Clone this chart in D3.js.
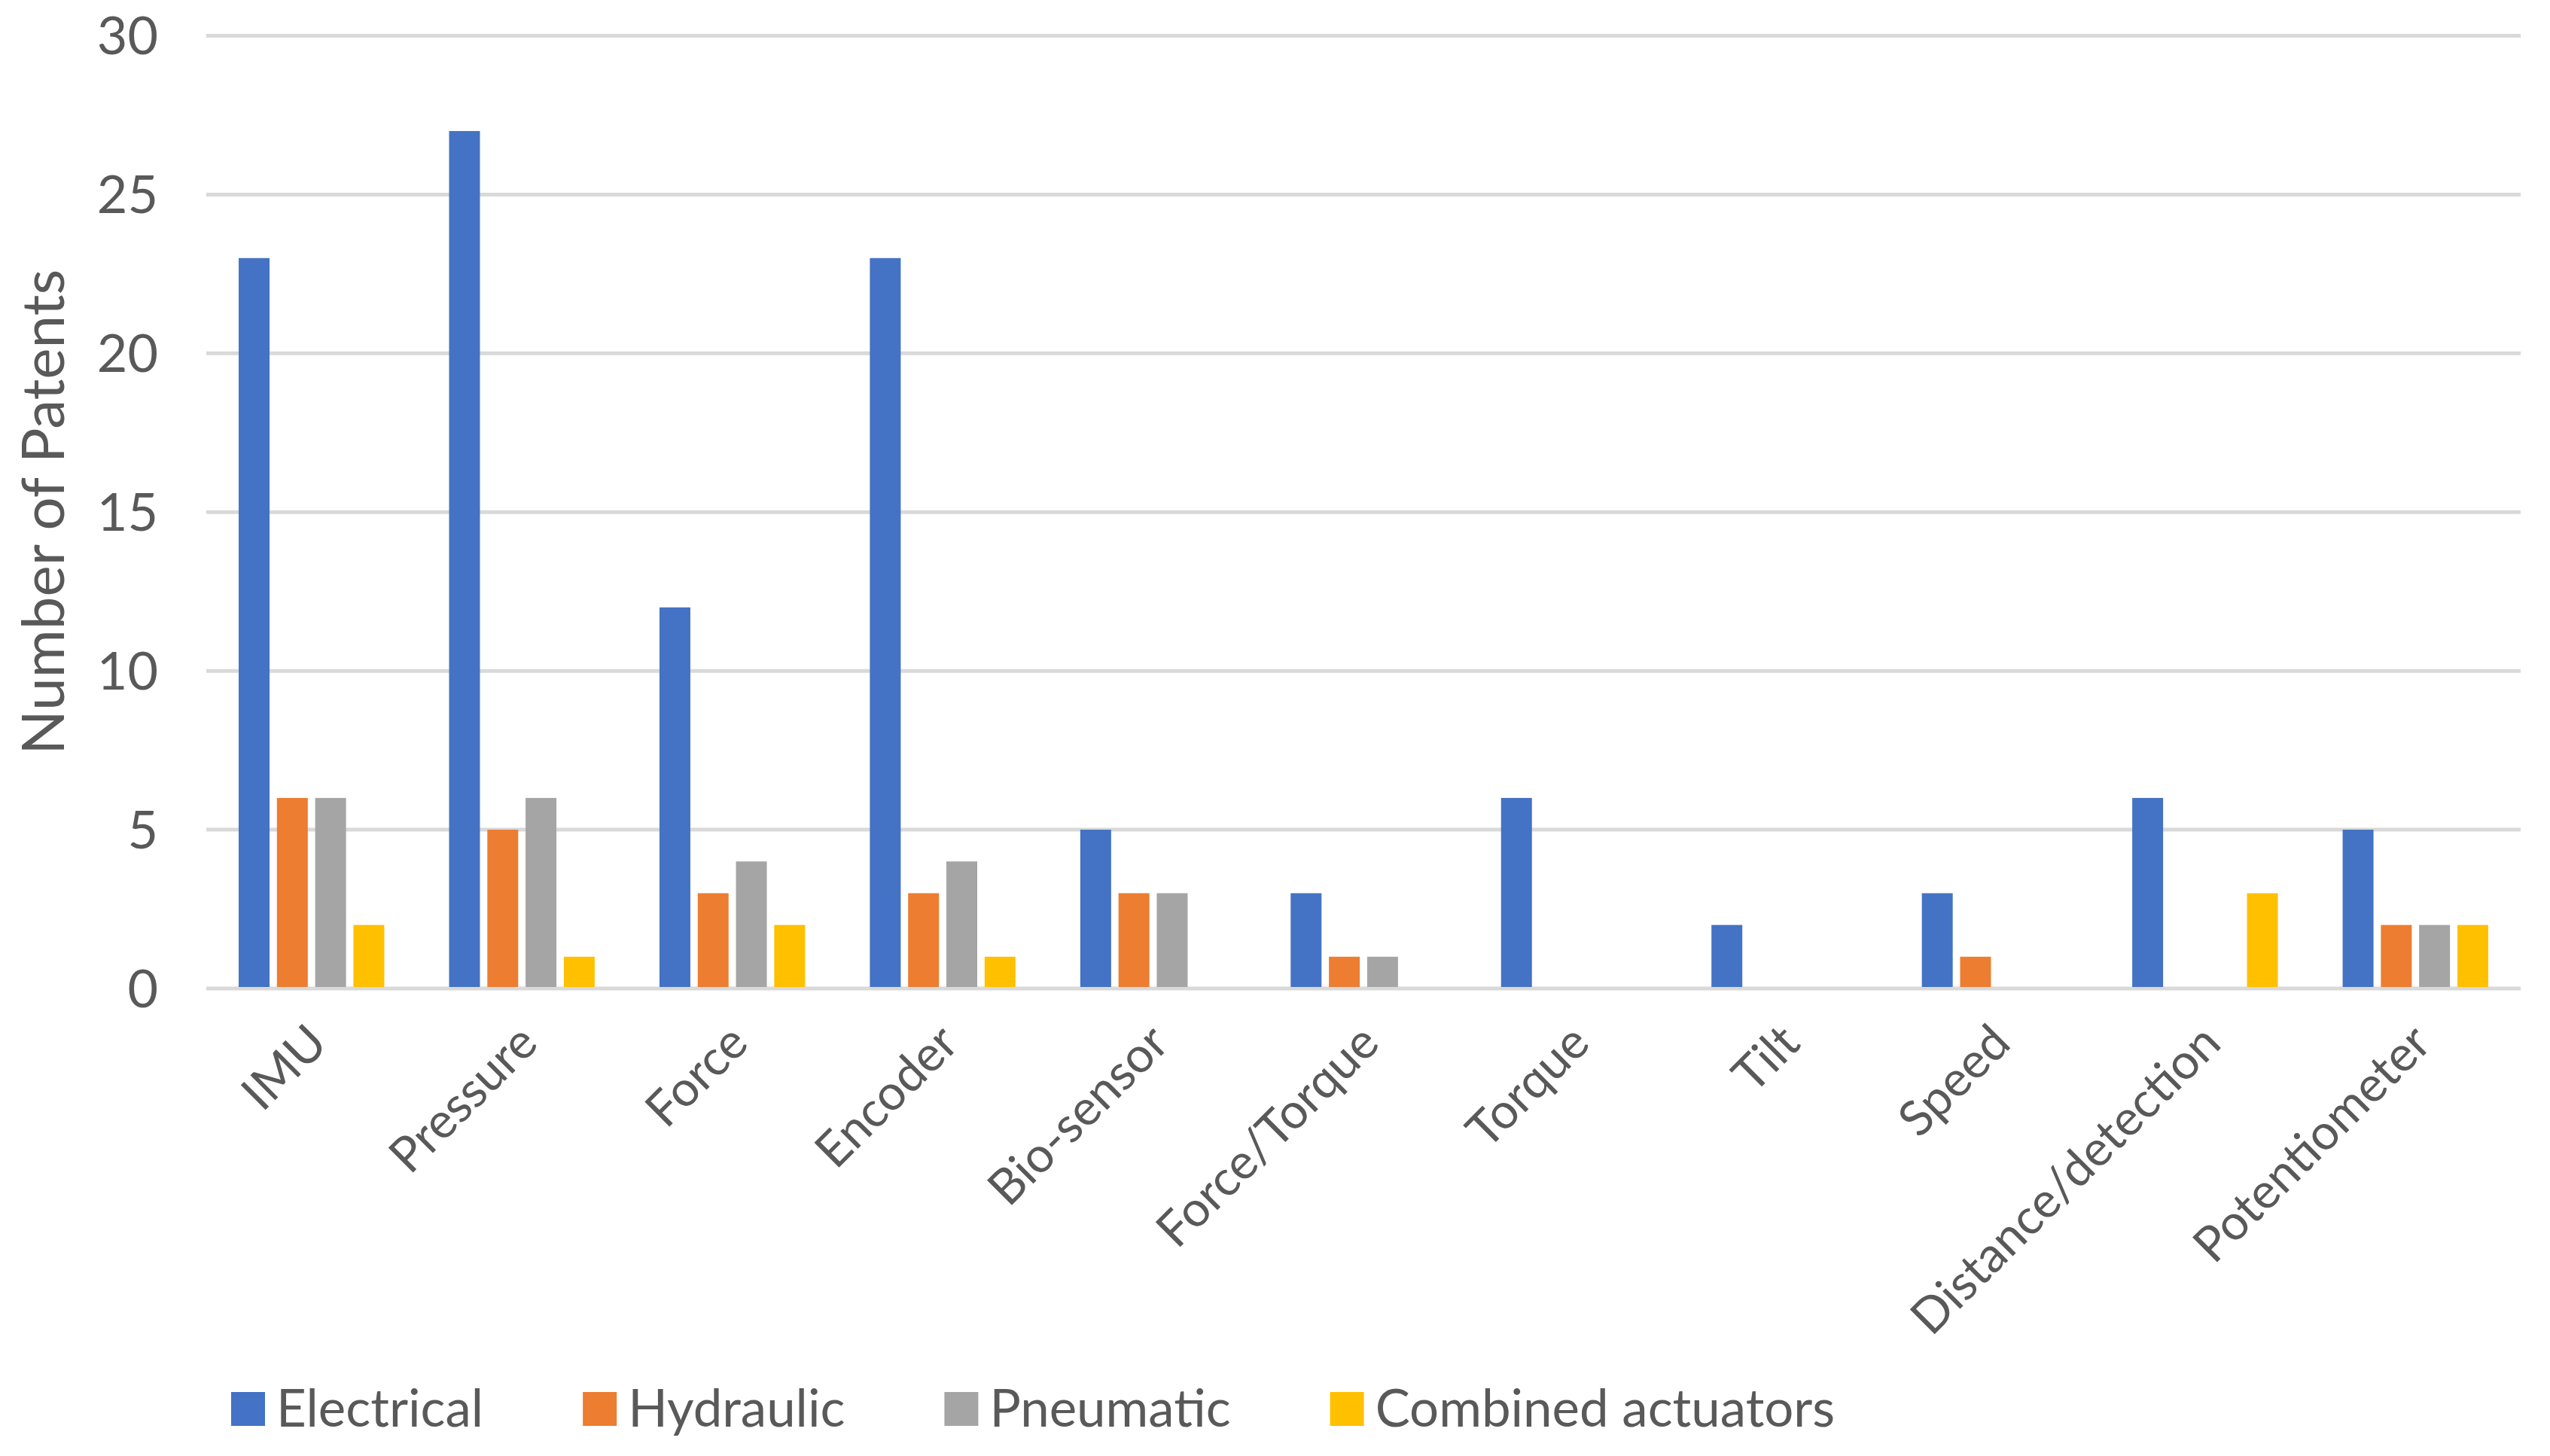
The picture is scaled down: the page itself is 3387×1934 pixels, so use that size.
<!DOCTYPE html>
<html>
<head>
<meta charset="utf-8">
<script src="https://cdn.jsdelivr.net/npm/d3@7"></script>
<style>
  html, body { margin: 0; padding: 0; background: #fff; }
  text { font-family: Lato, "Open Sans", sans-serif; fill: #595959; }
</style>
</head>
<body>
<svg id="chart" width="3387" height="1934"></svg>
<script>
// data
const categories = ['IMU', 'Pressure', 'Force', 'Encoder', 'Bio-sensor', 'Force/Torque',
    'Torque', 'Tilt', 'Speed', 'Distance/detection', 'Potentiometer'];
const seriesNames = ['Electrical', 'Hydraulic', 'Pneumatic', 'Combined actuators'];
const electrical = [23, 27, 12, 23, 5, 3, 6, 2, 3, 6, 5];
const hydraulic  = [6, 5, 3, 3, 3, 1, 0, 0, 1, 0, 2];
const pneumatic  = [6, 6, 4, 4, 3, 1, 0, 0, 0, 0, 2];
const combined   = [2, 1, 2, 1, 0, 0, 0, 0, 0, 3, 2];
const yTicks = [0, 5, 10, 15, 20, 25, 30];
const colors = ['#4472C4', '#ED7D31', '#A5A5A5', '#FFC000'];

const seriesValues = [electrical, hydraulic, pneumatic, combined];

const svg = d3.select('#chart');
svg.append('rect').attr('width', 3387).attr('height', 1934).attr('fill', '#fff');

const plot = {left: 274, right: 3348, top: 47.5, bottom: 1313};

let x0 = d3.scaleBand()
    .domain(categories)
    .range([plot.left, plot.right]);

// bar width ~41, step ~50.8 inside each category
let x1 = d3.scaleBand()
    .domain(seriesNames)
    .range([0, 193.4])
    .paddingInner(0.193)
    .paddingOuter(0);

let y = d3.scaleLinear()
    .domain([0, 30])
    .range([plot.bottom, plot.top]);

// Gridlines
svg.append('g')
    .selectAll('line')
    .data(yTicks)
    .join('line')
    .attr('x1', plot.left)
    .attr('x2', plot.right)
    .attr('y1', d => y(d))
    .attr('y2', d => y(d))
    .attr('stroke', '#D9D9D9')
    .attr('stroke-width', 5);

// Y tick labels
svg.append('g')
    .selectAll('text')
    .data(yTicks)
    .join('text')
    .attr('x', 210)
    .attr('y', d => y(d))
    .attr('dy', '0.35em')
    .attr('text-anchor', 'end')
    .attr('font-size', 70)
    .text(d => d);

// Bars
let groups = svg.append('g')
    .selectAll('g')
    .data(categories)
    .join('g')
    .attr('transform', c => `translate(${x0(c) + x0.bandwidth() / 2 - 96.7},0)`);

groups.selectAll('rect')
    .data((c, i) => seriesNames.map((s, j) => ({s: s, j: j, v: seriesValues[j][i]})))
    .join('rect')
    .filter(d => d.v > 0)
    .attr('x', d => x1(d.s))
    .attr('width', x1.bandwidth())
    .attr('y', d => y(d.v))
    .attr('height', d => y(0) - y(d.v) - 2)
    .attr('fill', d => colors[d.j]);

// Category labels, rotated
svg.append('g')
    .selectAll('text')
    .data(categories)
    .join('text')
    .attr('transform', c => `translate(${x0(c) + x0.bandwidth() / 2 + 8},${plot.bottom + 60}) rotate(-45)`)
    .attr('text-anchor', 'end')
    .attr('dy', '0.35em')
    .attr('font-size', 65)
    .text(c => c);

// Y axis title
svg.append('text')
    .attr('transform', `translate(58,${(plot.top + plot.bottom) / 2}) rotate(-90)`)
    .attr('text-anchor', 'middle')
    .attr('dy', '0.35em')
    .attr('font-size', 78)
    .text('Number of Patents');

// Legend
let legend = svg.append('g').attr('transform', 'translate(307,1871)');
let lx = 0;
seriesNames.forEach((s, j) => {
    legend.append('rect')
        .attr('x', lx)
        .attr('y', -22)
        .attr('width', 45)
        .attr('height', 45)
        .attr('fill', colors[j]);
    let t = legend.append('text')
        .attr('x', lx + 60)
        .attr('y', 0)
        .attr('dy', '0.35em')
        .attr('font-size', 69)
        .text(s);
    lx += 60 + t.node().getComputedTextLength() + 132;
});
</script>
</body>
</html>
